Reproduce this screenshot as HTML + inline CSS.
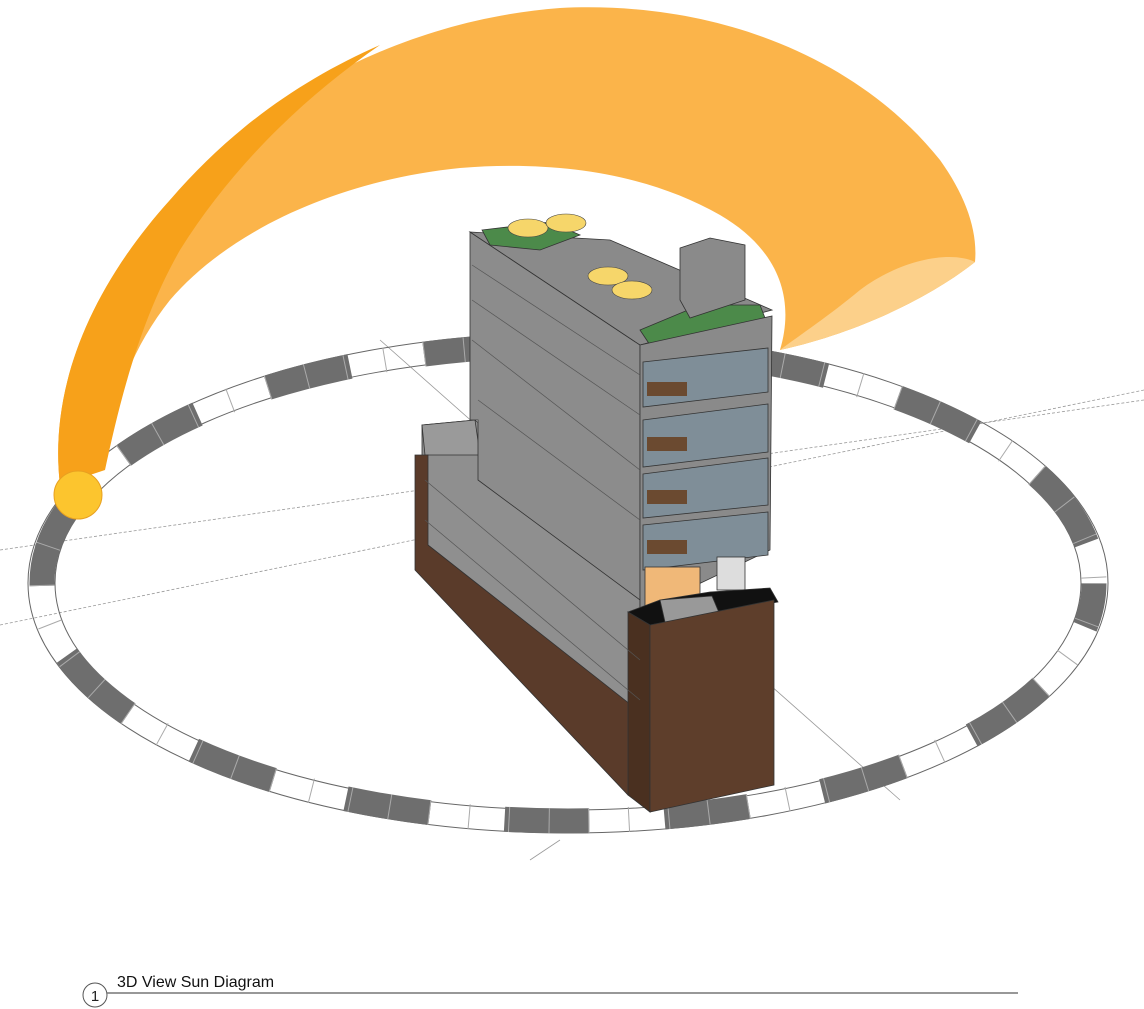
<!DOCTYPE html>
<html><head><meta charset="utf-8"><style>
html,body{margin:0;padding:0;background:#fff;}
svg{display:block;}
</style></head><body>
<svg width="1144" height="1009" viewBox="0 0 1144 1009" xmlns="http://www.w3.org/2000/svg">
<g stroke="#999" stroke-width="0.8" fill="none">
<line x1="0" y1="625" x2="1144" y2="390" stroke-dasharray="3,2"/>
<line x1="0" y1="550" x2="560" y2="470" stroke-dasharray="3,2"/>
<line x1="380" y1="340" x2="900" y2="800"/>
<line x1="760" y1="455" x2="1144" y2="400" stroke-dasharray="3,2"/>
<line x1="560" y1="840" x2="530" y2="860"/>
</g>
<ellipse cx="568" cy="583" rx="540" ry="250" fill="none" stroke="#666" stroke-width="1"/>
<ellipse cx="568" cy="583" rx="513" ry="227" fill="none" stroke="#666" stroke-width="1"/>
<ellipse cx="568" cy="583" rx="526" ry="238" fill="none" stroke="#6e6e6e" stroke-width="25" stroke-dasharray="85,75" stroke-dashoffset="40"/>
<ellipse cx="568" cy="583" rx="526" ry="238" fill="none" stroke="#aaa" stroke-width="25" stroke-dasharray="1,39" />
<path d="M60,485 C50,400 80,300 170,200 C260,100 400,20 560,8 C720,0 860,60 940,160 C965,195 978,230 975,262 C940,290 870,330 780,350 C795,300 780,250 720,215 C650,175 560,160 460,168 C340,180 230,230 170,300 C130,350 110,410 100,470 Z" fill="#fbb040" opacity="0.95"/>
<path d="M60,485 C50,400 80,300 170,200 C230,130 300,80 380,45 C300,100 230,170 180,250 C140,320 120,400 105,470 Z" fill="#f7a11a"/>
<path d="M975,262 C950,250 900,260 860,290 C830,315 800,335 780,350 C870,330 940,290 975,262 Z" fill="#fcd08a"/>
<circle cx="78" cy="495" r="24" fill="#fcc52e" stroke="#e8a020" stroke-width="1"/>
<g stroke="#333" stroke-width="0.8">
<polygon points="422,425 475,420 640,560 640,790 422,565" fill="#8f8f8f"/>
<polygon points="422,425 475,420 480,455 425,455" fill="#9a9a9a"/>
<polygon points="415,455 428,455 428,545 640,712 640,800 628,795 415,570" fill="#5a3b2a"/>
<polygon points="470,232 640,345 640,600 478,480 478,420 470,420" fill="#8c8c8c"/>
<polygon points="470,232 610,240 772,310 640,345" fill="#8a8a8a"/>
<polygon points="482,230 550,222 580,235 540,250 490,245" fill="#4c8a4a"/>
<polygon points="640,330 700,305 760,305 765,318 650,345" fill="#4c8a4a"/>
<polygon points="680,248 710,238 745,245 745,300 690,318 680,300" fill="#8a8a8a"/>
<polygon points="640,345 772,316 770,550 640,612" fill="#8a8a8a"/>
<polygon points="643,362 768,348 768,392 643,407" fill="#7f8e98"/>
<polygon points="643,420 768,404 768,452 643,467" fill="#7f8e98"/>
<polygon points="643,474 768,458 768,505 643,518" fill="#7f8e98"/>
<polygon points="643,525 768,512 768,555 643,570" fill="#7f8e98"/>
<rect x="645" y="567" width="55" height="40" fill="#f0b878"/>
<rect x="717" y="557" width="28" height="33" fill="#ddd"/>
<polygon points="628,612 660,600 710,592 770,588 778,602 650,625" fill="#111"/>
<polygon points="660,600 712,596 720,615 665,622" fill="#999"/>
<polygon points="628,612 650,625 650,812 628,795" fill="#4a3020"/>
<polygon points="650,625 774,600 774,785 650,812" fill="#5e3e2b"/>
</g>
<g stroke="#555" stroke-width="0.7" fill="none">
<line x1="472" y1="265" x2="640" y2="375"/>
<line x1="472" y1="300" x2="640" y2="415"/>
<line x1="472" y1="340" x2="640" y2="470"/>
<line x1="478" y1="400" x2="640" y2="520"/>
<line x1="425" y1="480" x2="640" y2="660"/>
<line x1="425" y1="520" x2="640" y2="700"/>
</g>
<g fill="#6b4a30">
<rect x="647" y="382" width="40" height="14"/><rect x="647" y="437" width="40" height="14"/>
<rect x="647" y="490" width="40" height="14"/><rect x="647" y="540" width="40" height="14"/>
</g>
<g fill="#f6d66a" stroke="#444" stroke-width="0.6">
<ellipse cx="528" cy="228" rx="20" ry="9"/><ellipse cx="566" cy="223" rx="20" ry="9"/>
<ellipse cx="608" cy="276" rx="20" ry="9"/><ellipse cx="632" cy="290" rx="20" ry="9"/>
</g>
<circle cx="95" cy="995" r="12" fill="#fff" stroke="#555" stroke-width="1"/>
<text x="95" y="1001" font-family="Liberation Sans, sans-serif" font-size="15" text-anchor="middle" fill="#222">1</text>
<line x1="107" y1="993" x2="1018" y2="993" stroke="#777" stroke-width="1.5"/>
<text x="117" y="987" font-family="Liberation Sans, sans-serif" font-size="16" fill="#111">3D View Sun Diagram</text>
</svg>
</body></html>
